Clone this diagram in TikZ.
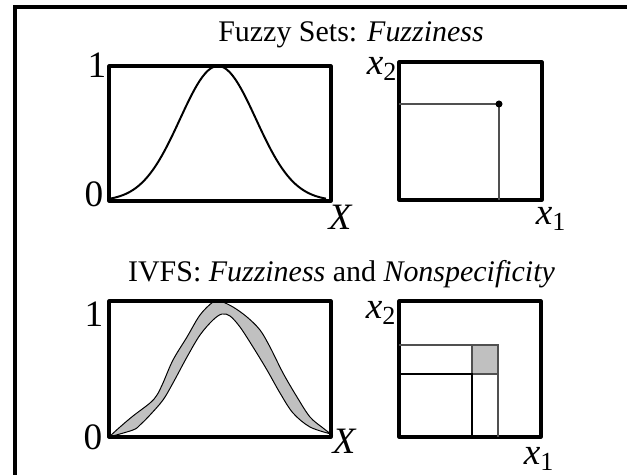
\documentclass[tikz,border=0pt]{standalone}
\usepackage{fontspec}
\setmainfont{Liberation Serif}
\usepackage{xcolor}
\usepackage{tikz}

\definecolor{bandgray}{RGB}{192,192,192}
\definecolor{guidegray}{RGB}{80,80,80}

\begin{document}
\begin{tikzpicture}[
    x=0.025cm,
    y=0.025cm,
    panel/.style={
        line width=2.2pt,
        line join=round
    },
    guide/.style={
        line width=1pt,
        draw=guidegray
    },
    axislabel/.style={
        font=\fontsize{26.5}{29}\selectfont,
        inner sep=0pt
    },
    varlabel/.style={
        axislabel,
        font=\fontsize{26.5}{29}\selectfont\itshape
    },
    heading/.style={
        font=\fontsize{21.3}{25}\selectfont,
        inner sep=0pt,
        anchor=base
    }
]

\useasboundingbox (0,0) rectangle (627,475);


% frame, cut off at right and bottom
\draw[line width=2.2pt] (627,468) -- (15,468) -- (15,0);


\node[heading] (fstitle) at (351,433) {Fuzzy Sets: \textit{Fuzziness}};
\node[heading] (ivtitle) at (341.5,193)
    {IVFS: \textit{Fuzziness} and \textit{Nonspecificity}};


% fuzzy set: one membership curve
\draw[line width=1.4pt]
    plot[domain=109:326, samples=80] (\x, {274+135*exp(-((\x-218)^2)/2888)});
\draw[panel] (109,274) rectangle (331,409);

\node[axislabel] (fsone) at (97,410) {1};
\node[axislabel] (fszero) at (94,281) {0};
\node[varlabel] (fsx) at (340,258) {X};


% fuzzy set: one point in the square
\draw[panel] (399,275) rectangle (542,413);
\draw[guide] (399,371) -- (499,371) -- (499,275);
\fill (499,371) circle (3.5);

\node[varlabel] (fsxtwo) at (382,406) {x\textsubscript{\upshape 2}};
\node[varlabel] (fsxone) at (551,256) {x\textsubscript{\upshape 1}};


% IVFS: band between lower and upper curve
\draw[line width=0.7pt, fill=bandgray]
    plot[smooth, tension=0.55] coordinates {
        (109,38) (120,48) (133,59) (150,72) (157,80) (163,92) (173,115)
        (187,138) (200,160) (213,173) (220,174) (233,168) (247,158)
        (260,145) (270,128) (283,102) (297,78) (310,58) (323,47) (331,41)}
    -- plot[smooth, tension=0.55] coordinates {
        (331,41) (310,48) (293,62) (280,82) (267,105) (253,128) (240,148)
        (230,159) (222,161) (213,155) (200,140) (187,118) (173,92)
        (163,75) (150,60) (140,50) (133,45) (109,38)}
    -- cycle;
\draw[panel] (109,38) rectangle (331,174);

\node[axislabel] (ivone) at (94,161) {1};
\node[axislabel] (ivzero) at (93,38) {0};
\node[varlabel] (ivx) at (344,34) {X};


% IVFS: interval box in the square
\draw[panel] (399,38) rectangle (541,174);
\draw[guide] (399,130) -- (472,130);
\draw[guide, fill=bandgray] (472,101) rectangle (498,130);
\draw[guide] (498,101) -- (498,38);
\draw[line width=1.6pt] (399,101) -- (472,101) -- (472,38);

\node[varlabel] (ivxtwo) at (381,162) {x\textsubscript{\upshape 2}};
\node[varlabel] (ivxone) at (539,16) {x\textsubscript{\upshape 1}};

\end{tikzpicture}
\end{document}
